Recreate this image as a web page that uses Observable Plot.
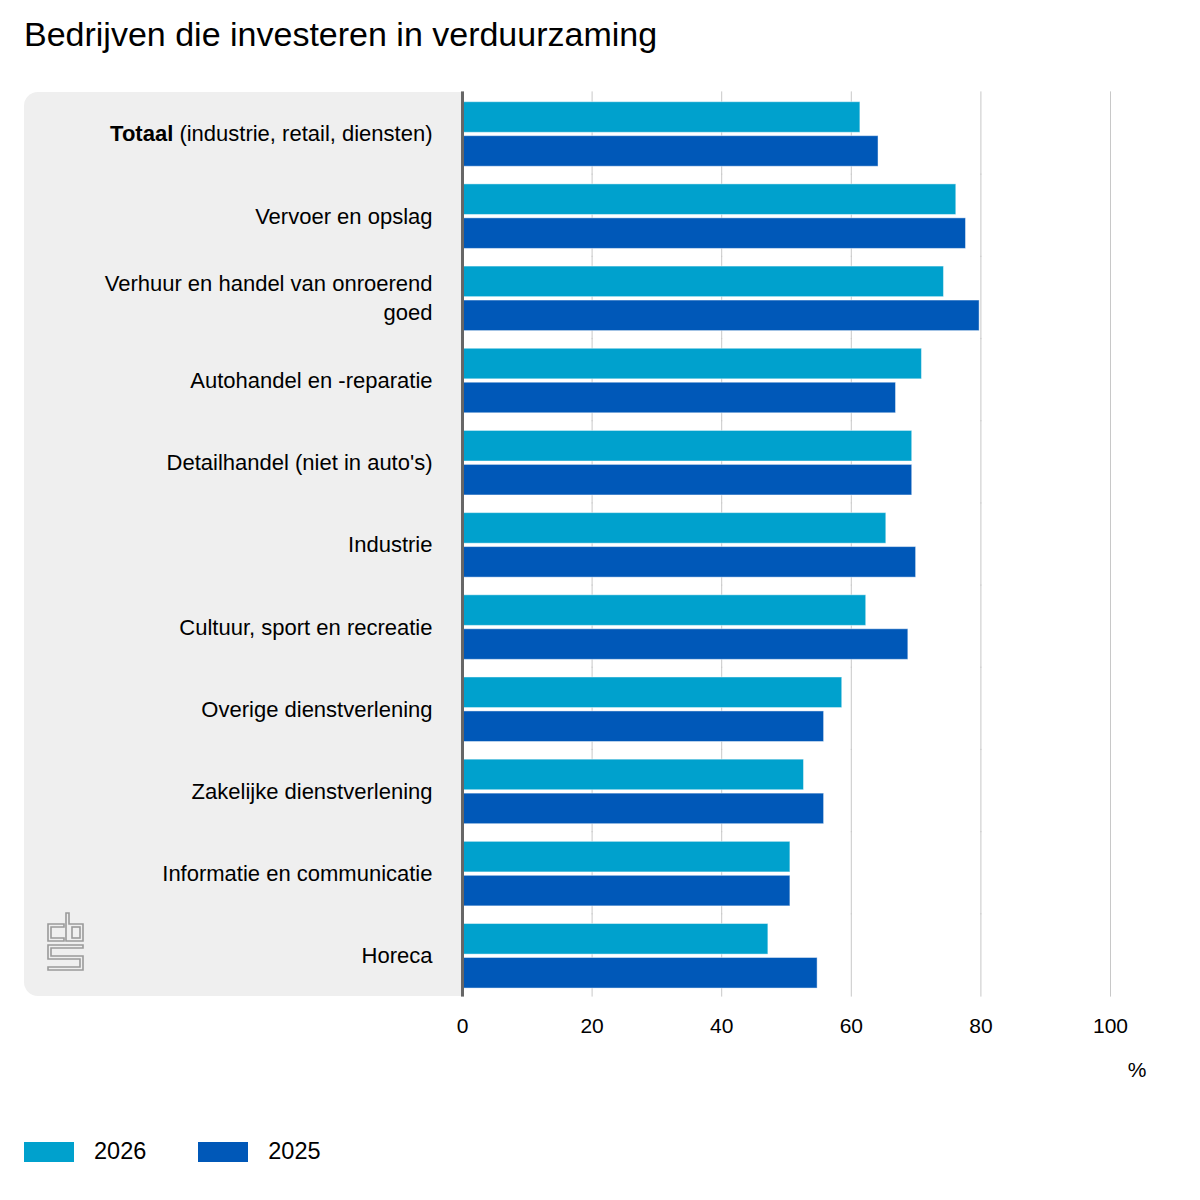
<!DOCTYPE html>
<html>
<head>
<meta charset="utf-8">
<script src="https://cdn.jsdelivr.net/npm/d3@7"></script>
<script src="https://cdn.jsdelivr.net/npm/@observablehq/plot@0.6"></script>
<style>
  body { margin: 0; background: #fff; font-family: "Liberation Sans", Arial, sans-serif; }
  #wrap { position: relative; width: 1200px; height: 1200px; overflow: hidden; }
  #title { position: absolute; left: 24px; top: 17px; font-size: 34px; line-height: 34px; color: #000; white-space: nowrap; }
  #panel { position: absolute; left: 24px; top: 92px; width: 438px; height: 904px; background: #efefef; border-radius: 14px 0 0 14px; }
  #logo { position: absolute; left: 44px; top: 909px; }
  #chart { position: absolute; left: 0; top: 0; }
  #legend { position: absolute; left: 24px; top: 1138px; display: flex; align-items: center; font-size: 23.5px; color: #000; }
  .item { display: flex; align-items: center; margin-right: 52px; }
  .sw { width: 50px; height: 20px; margin-right: 20px; }
</style>
</head>
<body>
<div id="wrap">
  <div id="panel"></div>
  <svg id="logo" width="46" height="66" viewBox="0 0 46 66">
    <g fill="none" stroke="#9a9a9a" stroke-width="1.6">
      <path d="M20,15 H4 V32 H20 V29 H7 V18 H20 Z"/>
      <path d="M22,4 H25 V15 H39 V32 H22 Z"/>
      <rect x="28" y="18" width="8" height="11"/>
      <path d="M39,36 H4 V50 H36 V58 H4 V61 H39 V47 H7 V39 H39 Z"/>
    </g>
  </svg>
  <div id="chart"></div>
  <div id="title">Bedrijven die investeren in verduurzaming</div>
  <div id="legend"></div>
</div>
<script>
const categories = [
  "Totaal (industrie, retail, diensten)",
  "Vervoer en opslag",
  "Verhuur en handel van onroerend goed",
  "Autohandel en -reparatie",
  "Detailhandel (niet in auto's)",
  "Industrie",
  "Cultuur, sport en recreatie",
  "Overige dienstverlening",
  "Zakelijke dienstverlening",
  "Informatie en communicatie",
  "Horeca"
];
const values2026 = [61.4, 76.2, 74.3, 70.9, 69.4, 65.4, 62.3, 58.6, 52.7, 50.6, 47.2];
const values2025 = [64.2, 77.7, 79.8, 66.9, 69.4, 70.0, 68.8, 55.8, 55.8, 50.6, 54.8];
const years = ["2026", "2025"];
const colors = ["#00a1cd", "#0058b8"];
const xTicks = [0, 20, 40, 60, 80, 100];
const unitLabel = "%";

const data = categories.flatMap((c, i) => [
  {cat: c, year: years[0], value: values2026[i]},
  {cat: c, year: years[1], value: values2025[i]}
]);

const labelFormat = d => d === "Verhuur en handel van onroerend goed"
  ? "Verhuur en handel van onroerend\ngoed" : d;

const chart = Plot.plot({
  width: 1200,
  height: 1100,
  marginTop: 92,
  marginLeft: 462,
  marginRight: 90,
  marginBottom: 104,
  style: {fontFamily: "'Liberation Sans', Arial, sans-serif", fontSize: "22px", background: "transparent", color: "#000"},
  x: {domain: [0, 100]},
  y: {domain: years, paddingInner: 0.1, paddingOuter: 0.26, align: 0.55, round: false, axis: null},
  fy: {domain: categories, padding: 0, round: false},
  color: {domain: years, range: colors},
  marks: [
    Plot.ruleX(xTicks.slice(1), {stroke: "#c8c8c8", strokeWidth: 1, insetTop: -0.6, insetBottom: -0.6}),
    Plot.barX(data, {x: "value", y: "year", fy: "cat", fill: "year", stroke: "white", strokeOpacity: 0.45, strokeWidth: 1}),
    Plot.ruleX([0], {stroke: "#666", strokeWidth: 3, insetTop: -0.6, insetBottom: -0.6}),
    Plot.axisX({ticks: xTicks, tickSize: 0, tickPadding: 22, label: null, fontSize: 21}),
    Plot.axisFy({anchor: "left", tickSize: 0, tickPadding: 30, label: null, tickFormat: labelFormat, lineHeight: 1.33, fontSize: 22, dy: -1.5}),
    Plot.text([{cat: categories[categories.length - 1], t: unitLabel}], {fy: "cat", text: "t", frameAnchor: "bottom-right", dx: 36, dy: 80, fontSize: 21})
  ]
});
document.getElementById("chart").appendChild(chart);

// Bold "Totaal"
chart.querySelectorAll("text").forEach(t => {
  if (t.textContent.startsWith("Totaal (")) {
    const rest = t.textContent.slice("Totaal".length);
    t.textContent = "";
    const ns = "http://www.w3.org/2000/svg";
    const b = document.createElementNS(ns, "tspan");
    b.setAttribute("font-weight", "bold");
    b.textContent = "Totaal";
    const r = document.createElementNS(ns, "tspan");
    r.textContent = rest;
    t.appendChild(b); t.appendChild(r);
  }
});

const legend = document.getElementById("legend");
years.forEach((y, i) => {
  const item = document.createElement("div");
  item.className = "item";
  const sw = document.createElement("div");
  sw.className = "sw";
  sw.style.background = colors[i];
  const lab = document.createElement("span");
  lab.textContent = y;
  item.appendChild(sw); item.appendChild(lab);
  legend.appendChild(item);
});
</script>
</body>
</html>
